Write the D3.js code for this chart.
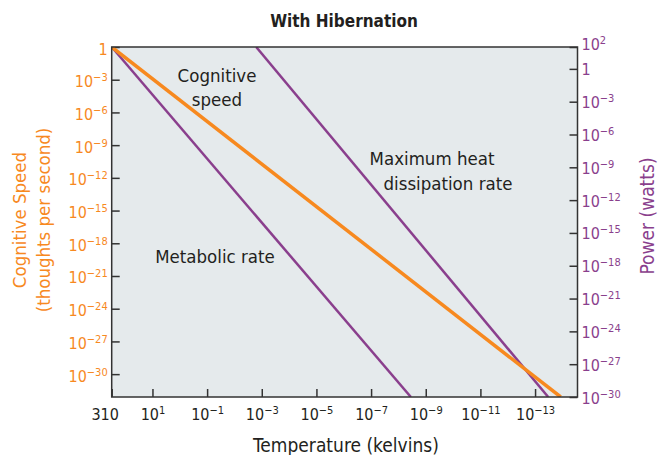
<!DOCTYPE html>
<html>
<head>
<meta charset="utf-8">
<title>With Hibernation</title>
<script src="https://cdn.jsdelivr.net/npm/d3@7"></script>
<style>
  body { margin: 0; background: #fff; }
  svg text { font-family: "DejaVu Sans Condensed", "DejaVu Sans", sans-serif; font-stretch: condensed; }
</style>
</head>
<body>
<svg width="659" height="455"></svg>
<script>
// data
var tempDomain = [310, 2.8e-15];        // kelvins, left -> right
var speedDomain = [1, 8e-33];           // thoughts per second, top -> bottom
var powerDomain = [1e2, 1e-30];         // watts, top -> bottom

var xTicks = [310, 1e1, 1e-1, 1e-3, 1e-5, 1e-7, 1e-9, 1e-11, 1e-13];
var speedTicks = [1, 1e-3, 1e-6, 1e-9, 1e-12, 1e-15, 1e-18, 1e-21, 1e-24, 1e-27, 1e-30];
var powerTicks = [1e2, 1, 1e-3, 1e-6, 1e-9, 1e-12, 1e-15, 1e-18, 1e-21, 1e-24, 1e-27, 1e-30];

var cognitive = [{t: 310, v: 1}, {t: 1.15e-14, v: 8e-33}];
var metabolic = [{t: 310, v: 1e2}, {t: 3.5e-9, v: 1e-30}];
var maxHeat   = [{t: 1.6e-3, v: 1e2}, {t: 3.3e-14, v: 1e-30}];

var orange = "#f7891f", purple = "#8a3f8d", ink = "#231f20";

var svg = d3.select("svg");
var plot = {left: 111.7, right: 577.5, top: 47, bottom: 397};

var x = d3.scaleLog().domain(tempDomain).range([plot.left, plot.right]);
var yL = d3.scaleLog().domain(speedDomain).range([plot.top, plot.bottom]);
var yR = d3.scaleLog().domain(powerDomain).range([plot.top, plot.bottom]);

// panel
svg.append("rect")
  .attr("x", plot.left).attr("y", plot.top)
  .attr("width", plot.right - plot.left).attr("height", plot.bottom - plot.top)
  .attr("fill", "#e5eaec");

svg.append("defs").append("clipPath").attr("id", "clip")
  .append("rect")
  .attr("x", plot.left).attr("y", plot.top)
  .attr("width", plot.right - plot.left).attr("height", plot.bottom - plot.top);

// label with power of ten superscript
function powLabel(sel, d) {
  sel.text(null);
  if (d === 310) { sel.text("310"); return; }
  var e = Math.round(Math.log10(d));
  if (e === 0) { sel.text("1"); return; }
  sel.append("tspan").text("10");
  sel.append("tspan").attr("font-size", "11px").attr("dy", -6)
    .text(e < 0 ? "\u2212" + (-e) : e);
}

// left axis
var gL = svg.append("g").attr("transform", "translate(" + plot.left + ",0)")
  .call(d3.axisLeft(yL).tickValues(speedTicks).tickSizeInner(-8).tickSizeOuter(0).tickPadding(4));
gL.select(".domain").remove();
gL.selectAll(".tick line").attr("stroke", "#333").attr("stroke-width", 1.5);
gL.selectAll(".tick text").attr("fill", orange).attr("font-size", "16px").attr("dy", 7)
  .each(function(d) { powLabel(d3.select(this), d); });

// right axis
var gR = svg.append("g").attr("transform", "translate(" + plot.right + ",0)")
  .call(d3.axisRight(yR).tickValues(powerTicks).tickSizeInner(-8).tickSizeOuter(0).tickPadding(4));
gR.select(".domain").remove();
gR.selectAll(".tick line").attr("stroke", "#333").attr("stroke-width", 1.5);
gR.selectAll(".tick text").attr("fill", purple).attr("font-size", "16px").attr("dy", 6)
  .each(function(d) { powLabel(d3.select(this), d); });
gR.selectAll(".tick").filter(function(d) { return d === 1e2; })
  .select("text").attr("dy", 2);

// bottom axis
var gB = svg.append("g").attr("transform", "translate(0," + plot.bottom + ")")
  .call(d3.axisBottom(x).tickValues(xTicks).tickSizeInner(-8).tickSizeOuter(0).tickPadding(10));
gB.select(".domain").remove();
gB.selectAll(".tick line").attr("stroke", "#333").attr("stroke-width", 1.5);
gB.selectAll(".tick text").attr("fill", ink).attr("font-size", "16px").attr("dy", 13)
  .each(function(d) { powLabel(d3.select(this), d); });
gB.selectAll(".tick").filter(function(d) { return d === 310; })
  .select("text").attr("x", -7);

// lines
var lineL = d3.line().x(function(d) { return x(d.t); }).y(function(d) { return yL(d.v); });
var lineR = d3.line().x(function(d) { return x(d.t); }).y(function(d) { return yR(d.v); });

var gLines = svg.append("g").attr("clip-path", "url(#clip)");
gLines.append("path").datum(metabolic).attr("d", lineR)
  .attr("fill", "none").attr("stroke", purple).attr("stroke-width", 2.5);
gLines.append("path").datum(maxHeat).attr("d", lineR)
  .attr("fill", "none").attr("stroke", purple).attr("stroke-width", 2.5);
gLines.append("path").datum(cognitive).attr("d", lineL)
  .attr("fill", "none").attr("stroke", orange).attr("stroke-width", 3.5);

// border
svg.append("rect")
  .attr("x", plot.left).attr("y", plot.top)
  .attr("width", plot.right - plot.left).attr("height", plot.bottom - plot.top)
  .attr("fill", "none").attr("stroke", "#333").attr("stroke-width", 1.5);

// in-plot labels
var notes = [
  {text: "Cognitive", x: 217, y: 82},
  {text: "speed", x: 217, y: 106},
  {text: "Maximum heat", x: 432, y: 165},
  {text: "dissipation rate", x: 448, y: 190},
  {text: "Metabolic rate", x: 215, y: 263}
];
svg.append("g").selectAll("text").data(notes).enter().append("text")
  .attr("x", function(d) { return d.x; }).attr("y", function(d) { return d.y; })
  .attr("text-anchor", "middle").attr("font-size", "18.5px").attr("fill", ink)
  .text(function(d) { return d.text; });

// titles
svg.append("text").attr("x", 344).attr("y", 27).attr("text-anchor", "middle")
  .attr("font-size", "17px").attr("font-weight", "bold").attr("fill", ink)
  .text("With Hibernation");

svg.append("text").attr("x", 346).attr("y", 452).attr("text-anchor", "middle")
  .attr("font-size", "19px").attr("fill", ink)
  .text("Temperature (kelvins)");

var yTitle = svg.append("text").attr("transform", "translate(0,220) rotate(-90)")
  .attr("text-anchor", "middle").attr("font-size", "18.5px").attr("fill", orange);
yTitle.append("tspan").attr("x", 0).attr("y", 26).text("Cognitive Speed");
yTitle.append("tspan").attr("x", 0).attr("y", 50).text("(thoughts per second)");

svg.append("text").attr("transform", "translate(654,216) rotate(-90)")
  .attr("text-anchor", "middle").attr("font-size", "19px").attr("fill", purple)
  .text("Power (watts)");
</script>
</body>
</html>
